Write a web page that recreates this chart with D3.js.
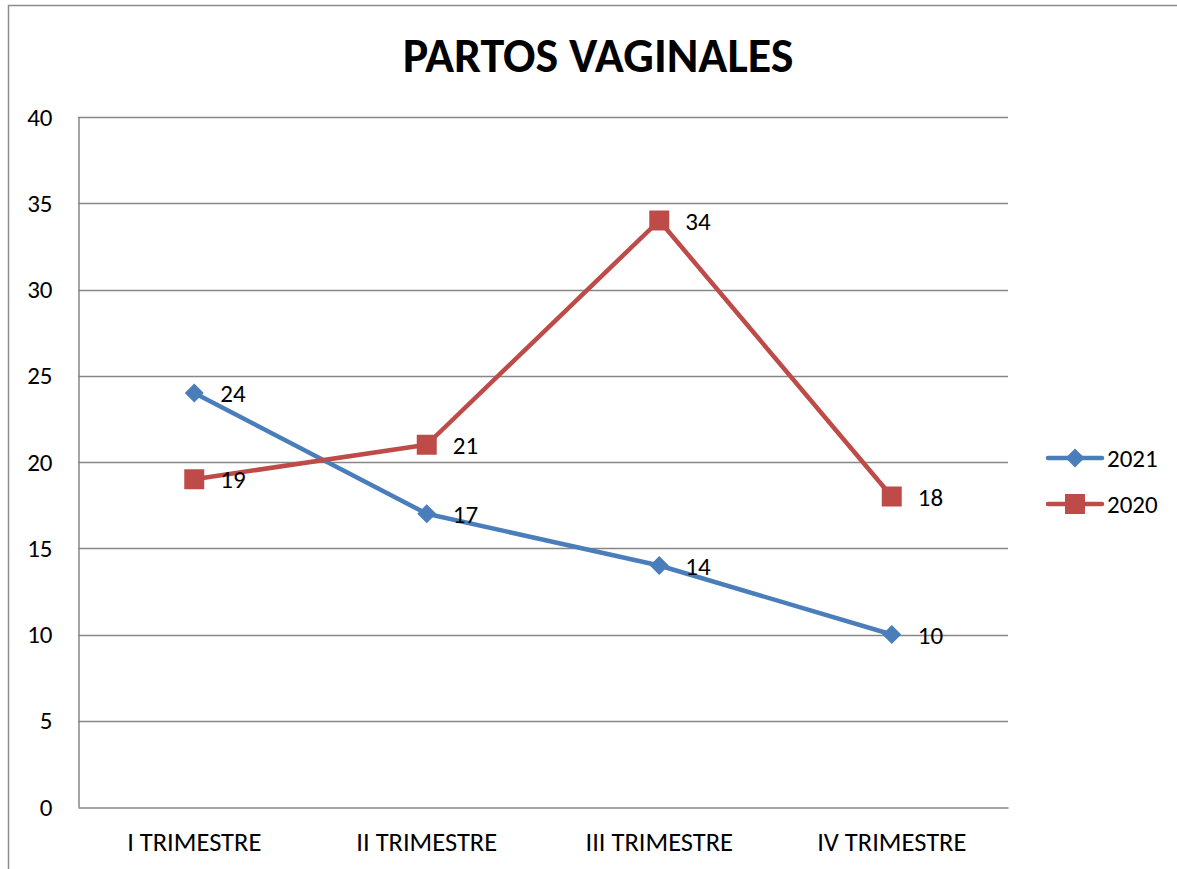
<!DOCTYPE html>
<html>
<head>
<meta charset="utf-8">
<script src="https://cdn.jsdelivr.net/npm/d3@7"></script>
<style>
  body { margin: 0; background: #fff; }
  text { font-family: Carlito, "Liberation Sans", "Open Sans", sans-serif; }
</style>
</head>
<body>
<div class="canvas"></div>
<script>
const categories = ['I TRIMESTRE', 'II TRIMESTRE', 'III TRIMESTRE', 'IV TRIMESTRE'];
const values2021 = [24, 17, 14, 10];
const values2020 = [19, 21, 34, 18];
const yTicks = [0, 5, 10, 15, 20, 25, 30, 35, 40];

const series = [
  { name: '2021', values: values2021, color: '#4A7EBB', shape: 'diamond' },
  { name: '2020', values: values2020, color: '#BE4B48', shape: 'square' }
];

const dims = { width: 1177, height: 869 };
const plot = { left: 78, right: 1008, top: 117, bottom: 807 };
const fontFamily = 'Carlito, "Liberation Sans", sans-serif';

const svg = d3.select('.canvas')
  .append('svg')
  .attr('width', dims.width)
  .attr('height', dims.height);

// outer chart border
svg.append('rect')
  .attr('x', 8.5)
  .attr('y', 5.5)
  .attr('width', 1200)
  .attr('height', 900)
  .attr('fill', 'none')
  .attr('stroke', '#8c8c8c')
  .attr('stroke-width', 1.5);

svg.append('text')
  .attr('x', 598)
  .attr('y', 72)
  .attr('text-anchor', 'middle')
  .style('font-size', '48px')
  .style('font-weight', 'bold')
  .text('PARTOS VAGINALES');

const x = d3.scaleBand().domain(categories).range([plot.left, plot.right]);
const y = d3.scaleLinear().domain([0, 40]).range([plot.bottom, plot.top]);

// gridlines
svg.append('g')
  .selectAll('line')
  .data(yTicks.filter(d => d > 0))
  .enter().append('line')
  .attr('x1', plot.left)
  .attr('x2', plot.right)
  .attr('y1', d => Math.round(y(d)) + 0.5)
  .attr('y2', d => Math.round(y(d)) + 0.5)
  .attr('stroke', '#868686')
  .attr('stroke-width', 1.5);

// y axis
const yAxis = svg.append('g')
  .attr('transform', `translate(${plot.left + 0.5}, 0)`)
  .call(d3.axisLeft(y).tickValues(yTicks).tickSize(0).tickPadding(26));
yAxis.select('.domain').attr('stroke', '#868686').attr('stroke-width', 1.5);
yAxis.selectAll('text').attr('fill', '#000')
  .style('font-size', '25px')
  .style('font-family', fontFamily);

// x axis
const xAxis = svg.append('g')
  .attr('transform', `translate(0, ${Math.round(plot.bottom) + 0.5})`)
  .call(d3.axisBottom(x).tickSize(0).tickPadding(25));
xAxis.select('.domain').attr('stroke', '#868686').attr('stroke-width', 1.5);
xAxis.selectAll('text').attr('fill', '#000')
  .style('font-size', '26.5px')
  .style('font-family', fontFamily);

const cx = (d, i) => x(categories[i]) + x.bandwidth() / 2;

const line = d3.line()
  .x((d, i) => cx(d, i))
  .y(d => y(d));

const symbolFor = shape => shape === 'diamond'
  ? d3.symbol().type(d3.symbolDiamond).size(104)
  : d3.symbol().type(d3.symbolSquare).size(400);
const stretch = shape => shape === 'diamond' ? ' scale(1.73,1)' : '';

series.forEach(s => {
  const g = svg.append('g');
  g.append('path')
    .attr('d', line(s.values))
    .attr('fill', 'none')
    .attr('stroke', s.color)
    .attr('stroke-width', 4.5)
    .attr('stroke-linejoin', 'round');

  g.selectAll('.marker')
    .data(s.values)
    .enter().append('path')
    .attr('class', 'marker')
    .attr('d', symbolFor(s.shape))
    .attr('transform', (d, i) => `translate(${cx(d, i)}, ${y(d)})${stretch(s.shape)}`)
    .attr('fill', s.color);

  g.selectAll('.label')
    .data(s.values)
    .enter().append('text')
    .attr('x', (d, i) => cx(d, i) + 26)
    .attr('y', d => y(d) + 9)
    .style('font-size', '25px')
    .text(d => d);
});

// legend
const legend = svg.append('g');
series.forEach((s, i) => {
  const ly = 458 + i * 46;
  legend.append('line')
    .attr('x1', 1048).attr('x2', 1102)
    .attr('y1', ly).attr('y2', ly)
    .attr('stroke', s.color)
    .attr('stroke-width', 4.5)
    .attr('stroke-linecap', 'round');
  legend.append('path')
    .attr('d', symbolFor(s.shape))
    .attr('transform', `translate(1075, ${ly})${stretch(s.shape)}`)
    .attr('fill', s.color);
  legend.append('text')
    .attr('x', 1107)
    .attr('y', ly + 9)
    .style('font-size', '25px')
    .text(s.name);
});
</script>
</body>
</html>
